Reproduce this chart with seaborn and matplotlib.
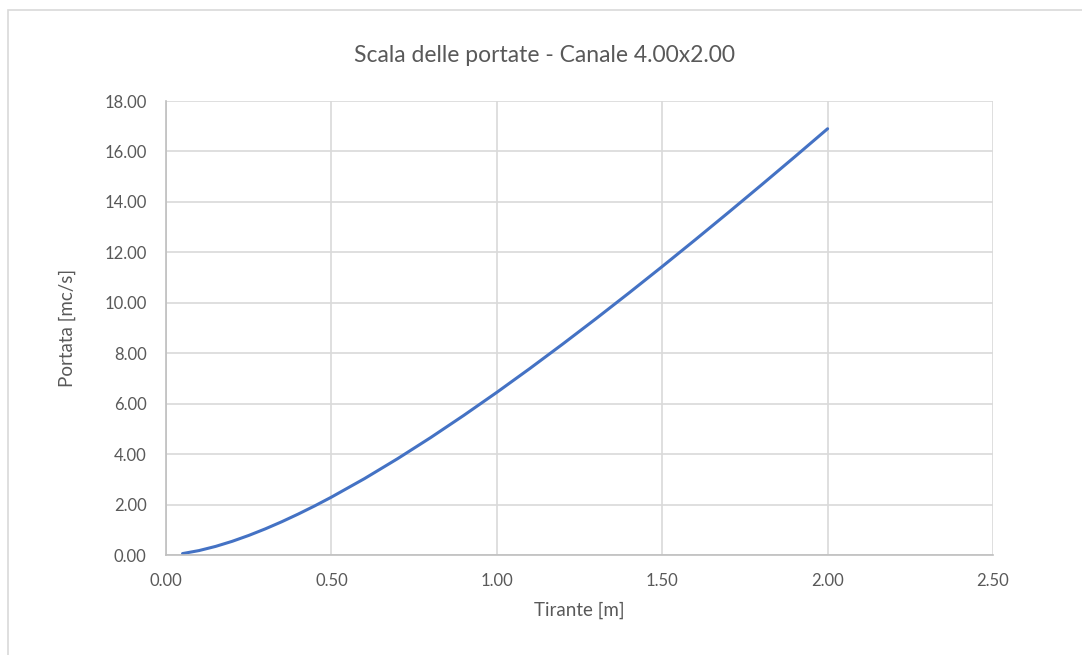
import matplotlib
matplotlib.use("Agg")
import matplotlib.pyplot as plt
import seaborn as sns
import pandas as pd
from matplotlib.patches import Rectangle

# Data
tirante = [0.05, 0.10, 0.15, 0.20, 0.25, 0.30, 0.35, 0.40, 0.45, 0.50, 0.60, 0.70, 0.80, 0.90, 1.00,
           1.10, 1.20, 1.30, 1.40, 1.50, 1.60, 1.70, 1.80, 1.90, 2.00]
portata = [0.056, 0.176, 0.341, 0.542, 0.775, 1.035, 1.319, 1.625, 1.950, 2.294, 3.028, 3.818,
           4.655, 5.534, 6.448, 7.395, 8.371, 9.371, 10.394, 11.437, 12.499, 13.578, 14.672,
           15.779, 16.900]
x_ticks = [0.0, 0.5, 1.0, 1.5, 2.0, 2.5]
y_ticks = [0, 2, 4, 6, 8, 10, 12, 14, 16, 18]
title = "Scala delle portate - Canale 4.00x2.00"
xlabel = "Tirante [m]"
ylabel = "Portata [mc/s]"

sns.set_theme(style="white")
plt.rcParams['font.family'] = ['Lato', 'DejaVu Sans']

df = pd.DataFrame({"Tirante": tirante, "Portata": portata})

fig = plt.figure(figsize=(10.82, 6.55), dpi=100)
W, H = 1082, 655
ax = fig.add_axes([166 / W, 1 - 555 / H, (993 - 166) / W, (555 - 101) / H])

# outer chart border
fig.patches.append(Rectangle((8 / W, -0.1), 1.2, 1 - 10 / H + 0.1, transform=fig.transFigure,
                             fill=False, edgecolor="#d9d9d9", linewidth=1.2))

sns.lineplot(data=df, x="Tirante", y="Portata", ax=ax, color="#4472C4", linewidth=2.2)

ax.set_xlim(0, 2.5)
ax.set_ylim(0, 18)
ax.set_xticks(x_ticks)
ax.set_yticks(y_ticks)
ax.set_xticklabels([f"{v:.2f}" for v in x_ticks])
ax.set_yticklabels([f"{v:.2f}" for v in y_ticks])
ax.grid(True, color="#d9d9d9", linewidth=1.2)
ax.set_axisbelow(True)
for s in ["top", "right"]:
    ax.spines[s].set_visible(False)
for s in ["left", "bottom"]:
    ax.spines[s].set_color("#bfbfbf")
    ax.spines[s].set_linewidth(1.2)
ax.tick_params(axis="both", length=0, labelsize=12, labelcolor="#595959")
ax.tick_params(axis="y", pad=14)
ax.tick_params(axis="x", pad=13)

ax.set_xlabel(xlabel, fontsize=13.5, color="#595959", labelpad=9)
ax.set_ylabel(ylabel, fontsize=13.5, color="#595959", labelpad=20)
fig.text(544 / W, 1 - 55 / H, title, ha="center", va="center",
         fontsize=16.5, color="#595959")

fig.savefig("out.png", dpi=100, facecolor="white")
